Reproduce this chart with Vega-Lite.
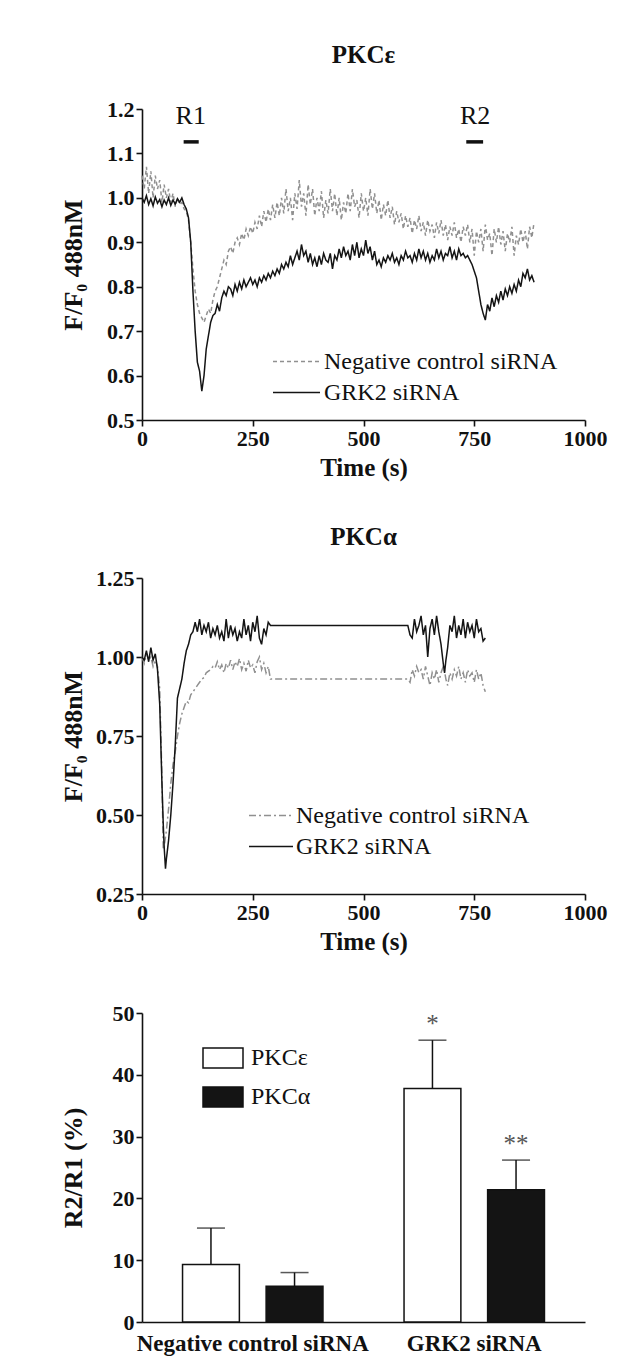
{
"$schema":"https://vega.github.io/schema/vega-lite/v6.json",
"background":"white",
"padding":{"left":60,"top":43,"right":10,"bottom":4},
"config":{
 "font":"Liberation Serif",
 "view":{"stroke":null},
 "axis":{"domainColor":"#111","domainWidth":1.6,"tickColor":"#111","tickWidth":1.6,"tickSize":6,"labelFont":"Liberation Serif","labelFontWeight":"bold","labelFontSize":22,"labelColor":"#111","titleFont":"Liberation Serif","titleFontWeight":"bold","titleFontSize":25,"titleColor":"#111","grid":false,"labelPadding":2,"labelLimit":0,"labelFlush":false},
 "title":{"font":"Liberation Serif","fontSize":25,"fontWeight":"bold","color":"#111","frame":"group","anchor":"middle"},
 "legend":{"labelFont":"Liberation Serif","labelFontSize":23,"labelColor":"#111","labelLimit":0}
},
"datasets":{
 "c1":[
{"t":0,"g":1.000,"n":1.05},{"t":5,"g":0.990,"n":1.02},{"t":10,"g":1.005,"n":1.07},{"t":15,"g":0.985,"n":1.01},{"t":20,"g":0.998,"n":1.06},{"t":25,"g":0.982,"n":1.00},{"t":30,"g":1.002,"n":1.05},{"t":35,"g":0.988,"n":1.02},{"t":40,"g":0.996,"n":1.04},{"t":45,"g":0.980,"n":0.99},{"t":50,"g":0.995,"n":1.03},{"t":55,"g":0.985,"n":1.00},{"t":60,"g":1.000,"n":1.02},{"t":65,"g":0.983,"n":0.99},{"t":70,"g":0.995,"n":1.01},{"t":75,"g":0.986,"n":0.98},{"t":80,"g":0.998,"n":1.00},{"t":85,"g":0.990,"n":0.985},{"t":90,"g":1.000,"n":0.99},{"t":95,"g":0.985,"n":0.975},
{"t":100,"g":0.975,"n":0.97},{"t":105,"g":0.955,"n":0.95},{"t":110,"g":0.900,"n":0.90},{"t":115,"g":0.790,"n":0.84},{"t":120,"g":0.700,"n":0.79},{"t":125,"g":0.630,"n":0.76},{"t":130,"g":0.610,"n":0.74},{"t":135,"g":0.565,"n":0.73},{"t":140,"g":0.600,"n":0.72},{"t":145,"g":0.660,"n":0.735},{"t":150,"g":0.690,"n":0.75},{"t":155,"g":0.720,"n":0.74},{"t":160,"g":0.735,"n":0.77},{"t":165,"g":0.740,"n":0.79},{"t":170,"g":0.760,"n":0.80},{"t":175,"g":0.745,"n":0.82},{"t":180,"g":0.775,"n":0.84},{"t":185,"g":0.790,"n":0.86},{"t":190,"g":0.780,"n":0.85},{"t":195,"g":0.800,"n":0.88},
{"t":200,"g":0.795,"n":0.89},{"t":205,"g":0.780,"n":0.875},{"t":210,"g":0.805,"n":0.90},{"t":215,"g":0.790,"n":0.91},{"t":220,"g":0.810,"n":0.895},{"t":225,"g":0.795,"n":0.92},{"t":230,"g":0.815,"n":0.905},{"t":235,"g":0.800,"n":0.93},{"t":240,"g":0.810,"n":0.915},{"t":245,"g":0.820,"n":0.935},{"t":250,"g":0.805,"n":0.92},{"t":255,"g":0.815,"n":0.945},{"t":260,"g":0.800,"n":0.93},{"t":265,"g":0.820,"n":0.96},{"t":270,"g":0.810,"n":0.935},{"t":275,"g":0.825,"n":0.97},{"t":280,"g":0.815,"n":0.945},{"t":285,"g":0.830,"n":0.975},{"t":290,"g":0.820,"n":0.95},{"t":295,"g":0.835,"n":0.985},
{"t":300,"g":0.825,"n":0.955},{"t":305,"g":0.840,"n":0.99},{"t":310,"g":0.830,"n":0.96},{"t":315,"g":0.850,"n":1.00},{"t":320,"g":0.840,"n":0.965},{"t":325,"g":0.855,"n":1.02},{"t":330,"g":0.845,"n":0.97},{"t":335,"g":0.870,"n":1.00},{"t":340,"g":0.850,"n":0.95},{"t":345,"g":0.865,"n":1.01},{"t":350,"g":0.880,"n":0.975},{"t":355,"g":0.860,"n":1.04},{"t":360,"g":0.895,"n":0.98},{"t":365,"g":0.870,"n":1.01},{"t":370,"g":0.880,"n":0.96},{"t":375,"g":0.855,"n":1.03},{"t":380,"g":0.875,"n":0.985},{"t":385,"g":0.850,"n":1.02},{"t":390,"g":0.865,"n":0.96},{"t":395,"g":0.845,"n":1.00},
{"t":400,"g":0.870,"n":0.97},{"t":405,"g":0.850,"n":1.015},{"t":410,"g":0.875,"n":0.955},{"t":415,"g":0.860,"n":0.995},{"t":420,"g":0.855,"n":0.965},{"t":425,"g":0.875,"n":1.02},{"t":430,"g":0.840,"n":0.97},{"t":435,"g":0.870,"n":1.01},{"t":440,"g":0.860,"n":0.96},{"t":445,"g":0.885,"n":1.00},{"t":450,"g":0.865,"n":0.95},{"t":455,"g":0.890,"n":0.99},{"t":460,"g":0.870,"n":0.965},{"t":465,"g":0.880,"n":1.01},{"t":470,"g":0.860,"n":0.97},{"t":475,"g":0.895,"n":1.02},{"t":480,"g":0.870,"n":0.98},{"t":485,"g":0.900,"n":0.995},{"t":490,"g":0.865,"n":0.955},{"t":495,"g":0.885,"n":1.01},
{"t":500,"g":0.870,"n":0.97},{"t":505,"g":0.905,"n":1.00},{"t":510,"g":0.875,"n":0.96},{"t":515,"g":0.890,"n":1.02},{"t":520,"g":0.860,"n":0.975},{"t":525,"g":0.880,"n":1.01},{"t":530,"g":0.850,"n":0.965},{"t":535,"g":0.860,"n":0.995},{"t":540,"g":0.845,"n":0.95},{"t":545,"g":0.865,"n":0.985},{"t":550,"g":0.855,"n":0.96},{"t":555,"g":0.870,"n":0.995},{"t":560,"g":0.860,"n":0.955},{"t":565,"g":0.875,"n":0.98},{"t":570,"g":0.855,"n":0.94},{"t":575,"g":0.865,"n":0.97},{"t":580,"g":0.850,"n":0.945},{"t":585,"g":0.870,"n":0.965},{"t":590,"g":0.860,"n":0.93},{"t":595,"g":0.880,"n":0.96},
{"t":600,"g":0.865,"n":0.935},{"t":605,"g":0.870,"n":0.955},{"t":610,"g":0.855,"n":0.92},{"t":615,"g":0.875,"n":0.95},{"t":620,"g":0.860,"n":0.93},{"t":625,"g":0.885,"n":0.96},{"t":630,"g":0.865,"n":0.925},{"t":635,"g":0.880,"n":0.945},{"t":640,"g":0.860,"n":0.915},{"t":645,"g":0.875,"n":0.95},{"t":650,"g":0.855,"n":0.925},{"t":655,"g":0.870,"n":0.94},{"t":660,"g":0.860,"n":0.91},{"t":665,"g":0.885,"n":0.945},{"t":670,"g":0.865,"n":0.92},{"t":675,"g":0.880,"n":0.95},{"t":680,"g":0.860,"n":0.915},{"t":685,"g":0.875,"n":0.94},{"t":690,"g":0.870,"n":0.905},{"t":695,"g":0.890,"n":0.935},
{"t":700,"g":0.865,"n":0.915},{"t":705,"g":0.880,"n":0.945},{"t":710,"g":0.860,"n":0.91},{"t":715,"g":0.885,"n":0.93},{"t":720,"g":0.870,"n":0.90},{"t":725,"g":0.875,"n":0.935},{"t":730,"g":0.865,"n":0.915},{"t":735,"g":0.870,"n":0.94},{"t":740,"g":0.860,"n":0.90},{"t":745,"g":0.850,"n":0.93},{"t":750,"g":0.835,"n":0.87},{"t":755,"g":0.820,"n":0.925},{"t":760,"g":0.790,"n":0.90},{"t":765,"g":0.760,"n":0.93},{"t":770,"g":0.740,"n":0.88},{"t":775,"g":0.725,"n":0.94},{"t":780,"g":0.760,"n":0.905},{"t":785,"g":0.745,"n":0.92},{"t":790,"g":0.775,"n":0.87},{"t":795,"g":0.755,"n":0.93},
{"t":800,"g":0.780,"n":0.90},{"t":805,"g":0.765,"n":0.935},{"t":810,"g":0.790,"n":0.895},{"t":815,"g":0.770,"n":0.925},{"t":820,"g":0.795,"n":0.88},{"t":825,"g":0.780,"n":0.92},{"t":830,"g":0.800,"n":0.90},{"t":835,"g":0.785,"n":0.935},{"t":840,"g":0.805,"n":0.87},{"t":845,"g":0.790,"n":0.915},{"t":850,"g":0.815,"n":0.895},{"t":855,"g":0.800,"n":0.93},{"t":860,"g":0.830,"n":0.90},{"t":865,"g":0.820,"n":0.925},{"t":870,"g":0.840,"n":0.885},{"t":875,"g":0.815,"n":0.935},{"t":880,"g":0.825,"n":0.91},{"t":885,"g":0.810,"n":0.945}
 ],
 "c2":[
{"t":0,"g":1.00,"n":1.00},{"t":5,"g":0.99,"n":0.98},{"t":10,"g":1.02,"n":1.01},{"t":15,"g":0.985,"n":0.99},{"t":20,"g":1.03,"n":1.00},{"t":25,"g":0.99,"n":0.97},{"t":30,"g":1.01,"n":0.99},{"t":35,"g":0.96,"n":0.97},{"t":40,"g":0.85,"n":0.90},{"t":45,"g":0.60,"n":0.62},{"t":48,"g":0.47,"n":0.39},{"t":50,"g":0.40,"n":0.40},{"t":53,"g":0.33,"n":0.43},{"t":55,"g":0.36,"n":0.45},{"t":60,"g":0.42,"n":0.52},{"t":65,"g":0.50,"n":0.60},{"t":70,"g":0.60,"n":0.66},{"t":75,"g":0.72,"n":0.70},{"t":80,"g":0.87,"n":0.75},{"t":85,"g":0.90,"n":0.79},{"t":90,"g":0.93,"n":0.82},{"t":95,"g":0.98,"n":0.84},
{"t":100,"g":1.02,"n":0.86},{"t":105,"g":1.04,"n":0.855},{"t":110,"g":1.07,"n":0.88},{"t":115,"g":1.08,"n":0.89},{"t":120,"g":1.11,"n":0.90},{"t":125,"g":1.08,"n":0.91},{"t":130,"g":1.12,"n":0.92},{"t":135,"g":1.07,"n":0.93},{"t":140,"g":1.10,"n":0.935},{"t":145,"g":1.08,"n":0.95},{"t":150,"g":1.11,"n":0.955},{"t":155,"g":1.06,"n":0.96},{"t":160,"g":1.09,"n":0.97},{"t":165,"g":1.07,"n":0.965},{"t":170,"g":1.10,"n":0.985},{"t":175,"g":1.06,"n":0.96},{"t":180,"g":1.08,"n":0.975},{"t":185,"g":1.05,"n":0.95},{"t":190,"g":1.12,"n":0.98},{"t":195,"g":1.06,"n":0.965},
{"t":200,"g":1.10,"n":0.99},{"t":205,"g":1.07,"n":0.96},{"t":210,"g":1.09,"n":0.985},{"t":215,"g":1.05,"n":0.97},{"t":220,"g":1.08,"n":0.995},{"t":225,"g":1.06,"n":0.96},{"t":230,"g":1.12,"n":0.98},{"t":235,"g":1.07,"n":0.955},{"t":240,"g":1.10,"n":0.99},{"t":245,"g":1.05,"n":0.965},{"t":250,"g":1.11,"n":0.975},{"t":255,"g":1.08,"n":0.95},{"t":260,"g":1.13,"n":0.985},{"t":265,"g":1.06,"n":1.00},{"t":270,"g":1.04,"n":0.96},{"t":275,"g":1.09,"n":0.98},{"t":280,"g":1.07,"n":0.95},{"t":285,"g":1.11,"n":0.97},{"t":290,"g":1.10,"n":0.93},
{"t":600,"g":1.10,"n":0.93},{"t":605,"g":1.07,"n":0.92},{"t":610,"g":1.06,"n":0.96},{"t":615,"g":1.12,"n":0.94},{"t":620,"g":1.08,"n":0.97},{"t":625,"g":1.10,"n":0.95},{"t":630,"g":1.13,"n":0.96},{"t":635,"g":1.07,"n":0.93},{"t":640,"g":1.10,"n":0.97},{"t":645,"g":1.00,"n":0.94},{"t":650,"g":1.09,"n":0.91},{"t":655,"g":1.12,"n":0.95},{"t":660,"g":1.07,"n":0.93},{"t":665,"g":1.13,"n":0.96},{"t":670,"g":1.08,"n":0.92},{"t":675,"g":1.04,"n":0.95},{"t":680,"g":0.98,"n":0.97},{"t":683,"g":0.95,"n":0.955},{"t":686,"g":0.99,"n":0.93},{"t":690,"g":1.03,"n":0.91},{"t":695,"g":1.10,"n":0.95},
{"t":700,"g":1.08,"n":0.93},{"t":705,"g":1.13,"n":0.96},{"t":710,"g":1.06,"n":0.94},{"t":715,"g":1.10,"n":0.97},{"t":720,"g":1.07,"n":0.93},{"t":725,"g":1.12,"n":0.95},{"t":730,"g":1.06,"n":0.92},{"t":735,"g":1.11,"n":0.96},{"t":740,"g":1.08,"n":0.94},{"t":745,"g":1.10,"n":0.95},{"t":750,"g":1.06,"n":0.92},{"t":755,"g":1.12,"n":0.96},{"t":760,"g":1.08,"n":0.93},{"t":765,"g":1.09,"n":0.95},{"t":770,"g":1.05,"n":0.91},{"t":775,"g":1.06,"n":0.89}
 ],
 "ann1":[
{"label":"R1","tx":110,"ty":1.185,"b0":94,"b1":128,"by":1.126},
{"label":"R2","tx":752,"ty":1.185,"b0":732,"b1":770,"by":1.126}
 ],
 "bars":[
{"grp":"Negative control siRNA","pkc":"PKCε","mean":9.3,"err":15.2,"star":""},
{"grp":"Negative control siRNA","pkc":"PKCα","mean":5.8,"err":8.0,"star":""},
{"grp":"GRK2 siRNA","pkc":"PKCε","mean":37.8,"err":45.6,"star":"*"},
{"grp":"GRK2 siRNA","pkc":"PKCα","mean":21.4,"err":26.2,"star":"**"}
 ]
},
"vconcat":[
 {"vconcat":[
  {
   "width":443,"height":311,
   "title":{"text":"PKCε","offset":30},
   "layer":[
    {"data":{"name":"c1"},"transform":[{"fold":["n","g"],"as":["s","v"]}],
     "mark":{"type":"line","strokeWidth":1.5},
     "encoding":{
      "x":{"field":"t","type":"quantitative","scale":{"domain":[0,1000],"nice":false},"axis":{"values":[0,250,500,750,1000],"format":"d","title":"Time (s)","titlePadding":6}},
      "y":{"field":"v","type":"quantitative","scale":{"domain":[0.5,1.2],"nice":false,"zero":false},"axis":{"values":[0.5,0.6,0.7,0.8,0.9,1.0,1.1,1.2],"format":".1f","title":"F/F₀ 488nM","titleFontSize":26,"titlePadding":20}},
      "color":{"field":"s","type":"nominal","scale":{"domain":["n","g"],"range":["#909090","#141414"]},"legend":{"title":null,"orient":"none","legendX":130,"legendY":240,"labelExpr":"datum.label=='n'?'Negative control siRNA':'GRK2 siRNA'","symbolType":"stroke","symbolSize":2209,"symbolStrokeWidth":1.5,"clipHeight":25,"rowPadding":6,"labelOffset":3,"labelFontSize":24}},
      "strokeDash":{"field":"s","type":"nominal","scale":{"domain":["n","g"],"range":[[4,3],[1,0]]},"legend":{"title":null,"orient":"none","legendX":130,"legendY":240,"labelExpr":"datum.label=='n'?'Negative control siRNA':'GRK2 siRNA'","symbolType":"stroke","symbolSize":2209,"symbolStrokeWidth":1.5,"clipHeight":25,"rowPadding":6,"labelOffset":3,"labelFontSize":24}}
     }},
    {"data":{"name":"ann1"},"mark":{"type":"text","fontSize":26,"color":"#111","baseline":"middle"},
     "encoding":{"x":{"field":"tx","type":"quantitative"},"y":{"field":"ty","type":"quantitative"},"text":{"field":"label"}}},
    {"data":{"name":"ann1"},"mark":{"type":"rule","strokeWidth":3.5,"color":"#111"},
     "encoding":{"x":{"field":"b0","type":"quantitative"},"x2":{"field":"b1"},"y":{"field":"by","type":"quantitative"}}}
   ]
  },
  {
   "width":443,"height":316,
   "title":{"text":"PKCα","offset":17},
   "data":{"name":"c2"},"transform":[{"fold":["n","g"],"as":["s","v"]}],
   "mark":{"type":"line","strokeWidth":1.5},
   "encoding":{
    "x":{"field":"t","type":"quantitative","scale":{"domain":[0,1000],"nice":false},"axis":{"values":[0,250,500,750,1000],"format":"d","title":"Time (s)","titlePadding":6}},
    "y":{"field":"v","type":"quantitative","scale":{"domain":[0.25,1.25],"nice":false,"zero":false},"axis":{"values":[0.25,0.5,0.75,1.0,1.25],"format":".2f","title":"F/F₀ 488nM","titleFontSize":26,"titlePadding":9}},
    "color":{"field":"s","type":"nominal","scale":{"domain":["n","g"],"range":["#909090","#141414"]},"legend":{"title":null,"orient":"none","legendX":106,"legendY":225,"labelExpr":"datum.label=='n'?'Negative control siRNA':'GRK2 siRNA'","symbolType":"stroke","symbolSize":1936,"symbolStrokeWidth":1.5,"clipHeight":25,"rowPadding":6,"labelOffset":2,"labelFontSize":24}},
    "strokeDash":{"field":"s","type":"nominal","scale":{"domain":["n","g"],"range":[[7,3,2,3],[1,0]]},"legend":{"title":null,"orient":"none","legendX":106,"legendY":225,"labelExpr":"datum.label=='n'?'Negative control siRNA':'GRK2 siRNA'","symbolType":"stroke","symbolSize":1936,"symbolStrokeWidth":1.5,"clipHeight":25,"rowPadding":6,"labelOffset":2,"labelFontSize":24}}
   }
  }
 ],"spacing":158,"bounds":"flush",
 "resolve":{"scale":{"color":"independent","strokeDash":"independent"},"legend":{"color":"independent","strokeDash":"independent"}}},
 {
  "width":443,"height":309,
  "data":{"name":"bars"},
  "encoding":{
   "x":{"field":"grp","type":"nominal","sort":null,"scale":{"paddingInner":0.2,"paddingOuter":0.1},"axis":{"title":null,"ticks":false,"labelAngle":0,"labelPadding":10,"labelFontSize":23}},
   "xOffset":{"field":"pkc","type":"nominal","sort":null,"scale":{"domain":["PKCε","PKCα"],"paddingInner":0.32,"paddingOuter":0.22}}
  },
  "layer":[
   {"mark":{"type":"bar","stroke":"#111","strokeWidth":1.5},
    "encoding":{
     "y":{"field":"mean","type":"quantitative","scale":{"domain":[0,50],"nice":false},"axis":{"values":[0,10,20,30,40,50],"title":"R2/R1 (%)","titleFontSize":26,"titlePadding":26}},
     "fill":{"field":"pkc","type":"nominal","scale":{"domain":["PKCε","PKCα"],"range":["white","#141414"]},"legend":{"title":null,"orient":"none","legendX":60,"legendY":32,"symbolType":"M-1,-0.5H1V0.5H-1Z","symbolSize":1600,"symbolStrokeColor":"#111","symbolStrokeWidth":1.5,"clipHeight":26,"rowPadding":13,"labelOffset":7,"labelFontSize":24}}
    }},
   {"mark":{"type":"rule","color":"#111","strokeWidth":1.5},
    "encoding":{"y":{"field":"mean","type":"quantitative"},"y2":{"field":"err"}}},
   {"mark":{"type":"tick","color":"#111","thickness":1.5,"size":28,"orient":"horizontal"},
    "encoding":{"y":{"field":"err","type":"quantitative"}}},
   {"mark":{"type":"text","fontSize":25,"color":"#555","baseline":"middle","dy":-16},
    "encoding":{"y":{"field":"err","type":"quantitative"},"text":{"field":"star"}}}
  ]
 }
],
"spacing":48,
"resolve":{"legend":{"fill":"independent"}}
}
